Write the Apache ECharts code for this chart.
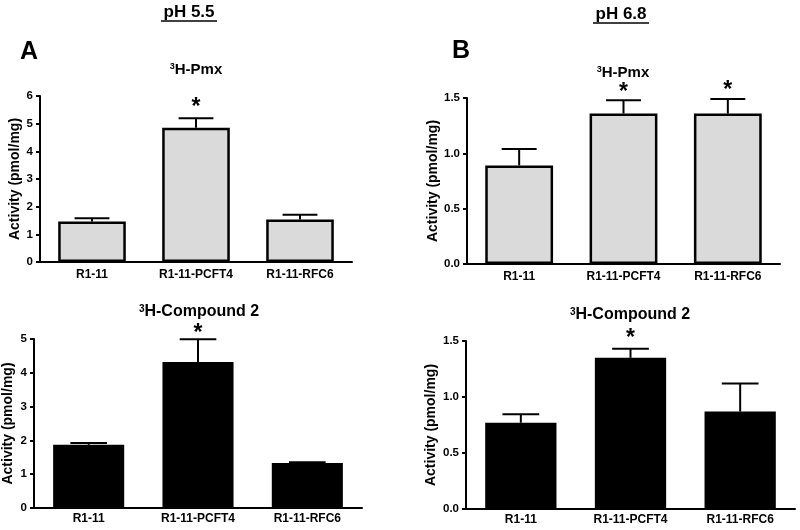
<!DOCTYPE html>
<html>
<head>
<meta charset="utf-8">
<script src="https://cdn.jsdelivr.net/npm/echarts@6/dist/echarts.min.js"></script>
<style>html,body{margin:0;padding:0;background:#fff;}#c{width:800px;height:530px;}</style>
</head>
<body>
<div id="c"></div>
<script>
const categories = ['R1-11', 'R1-11-PCFT4', 'R1-11-RFC6'];
// pH 5.5, 3H-Pmx
const pmx55 = [1.46, 4.85, 1.54];
const pmx55Err = [0.12, 0.35, 0.17];
const pmx55Sig = [0, 1, 0];
// pH 6.8, 3H-Pmx
const pmx68 = [0.89, 1.36, 1.36];
const pmx68Err = [0.15, 0.12, 0.13];
const pmx68Sig = [0, 1, 1];
// pH 5.5, 3H-Compound 2
const cpd55 = [1.87, 4.32, 1.33];
const cpd55Err = [0.05, 0.67, 0.02];
const cpd55Sig = [0, 1, 0];
// pH 6.8, 3H-Compound 2
const cpd68 = [0.77, 1.35, 0.87];
const cpd68Err = [0.075, 0.08, 0.25];
const cpd68Sig = [0, 1, 0];

const yTicksA = { max: 6, interval: 1 };
const yTicksB = { max: 1.5, interval: 0.5 };
const yTicksC = { max: 5, interval: 1 };
const yTicksD = { max: 1.5, interval: 0.5 };

const FONT = "'Liberation Sans', Arial, sans-serif";
const chart = echarts.init(document.getElementById('c'), null, { renderer: 'canvas' });

const grids = [
  { left: 40, top: 96, width: 312, height: 166 },
  { left: 467, top: 98, width: 313, height: 166 },
  { left: 33, top: 339, width: 329, height: 169 },
  { left: 466, top: 341, width: 329, height: 168 }
];

const panels = [
  { vals: pmx55, err: pmx55Err, sig: pmx55Sig, ticks: yTicksA, fill: '#dadada', dec: 0, nameGap: 18, labMargin: 7, ast: 13 },
  { vals: pmx68, err: pmx68Err, sig: pmx68Sig, ticks: yTicksB, fill: '#dadada', dec: 1, nameGap: 27, labMargin: 7, ast: 11 },
  { vals: cpd55, err: cpd55Err, sig: cpd55Sig, ticks: yTicksC, fill: '#000000', dec: 0, nameGap: 19, labMargin: 5, ast: 9 },
  { vals: cpd68, err: cpd68Err, sig: cpd68Sig, ticks: yTicksD, fill: '#000000', dec: 1, nameGap: 28, labMargin: 5, ast: 13 }
];

const xAxes = [], yAxes = [], series = [];
panels.forEach((p, k) => {
  xAxes.push({
    type: 'category', gridIndex: k, data: categories,
    axisLine: { lineStyle: { color: '#000', width: 2 } },
    axisTick: { show: false },
    axisLabel: { color: '#000', fontWeight: 'bold', fontSize: 12, fontFamily: FONT, margin: p.labMargin }
  });
  yAxes.push({
    type: 'value', gridIndex: k, min: 0, max: p.ticks.max, interval: p.ticks.interval,
    name: 'Activity (pmol/mg)', nameLocation: 'middle', nameGap: p.nameGap,
    nameTextStyle: { color: '#000', fontWeight: 'bold', fontSize: 14, fontFamily: FONT },
    axisLine: { show: true, lineStyle: { color: '#000', width: 2 } },
    axisTick: { show: true, length: 4, lineStyle: { color: '#000', width: 2 } },
    splitLine: { show: false },
    axisLabel: { color: '#000', fontWeight: 'bold', fontSize: 11.5, fontFamily: FONT, margin: 7,
      formatter: v => v.toFixed(p.dec) }
  });
  series.push({
    type: 'bar', xAxisIndex: k, yAxisIndex: k, data: p.vals, barWidth: '65%',
    itemStyle: { color: p.fill, borderColor: '#000', borderWidth: 2.5 },
    animation: false, z: 2
  });
  series.push({
    type: 'custom', xAxisIndex: k, yAxisIndex: k, z: 3, animation: false,
    encode: { x: 0, y: 1 },
    data: p.vals.map((v, i) => [i, v, p.err[i], p.sig[i]]),
    renderItem: function (params, api) {
      const i = api.value(0), v = api.value(1), e = api.value(2), s = api.value(3);
      const top = api.coord([i, v]);
      const hi = api.coord([i, v + e]);
      const bw = api.size([1, 0])[0] * 0.67;
      const hw = bw / 4;
      const children = [
        { type: 'line', shape: { x1: top[0], y1: top[1], x2: hi[0], y2: hi[1] }, style: { stroke: '#000', lineWidth: 2 } },
        { type: 'line', shape: { x1: hi[0] - hw, y1: hi[1], x2: hi[0] + hw, y2: hi[1] }, style: { stroke: '#000', lineWidth: 2 } }
      ];
      if (s) {
        children.push({ type: 'text', style: { text: '*', x: hi[0], y: hi[1] - p.ast + 3, align: 'center', verticalAlign: 'middle',
          font: 'bold 23px ' + FONT, fill: '#000' } });
      }
      return { type: 'group', children };
    }
  });
});

function titleText(txt, x, y, size) {
  return { type: 'text', x: x, y: y, style: {
    text: '{s|3}{b|' + txt + '}', align: 'center', verticalAlign: 'middle',
    rich: { s: { fontSize: Math.round(size * 0.62), fontWeight: 'bold', fontFamily: FONT, fill: '#000', verticalAlign: 'top', padding: [0, 0, 6, 0] },
            b: { fontSize: size, fontWeight: 'bold', fontFamily: FONT, fill: '#000' } } } };
}

const graphic = [
  { type: 'text', x: 189, y: 12, style: { text: 'pH 5.5', align: 'center', verticalAlign: 'middle', font: 'bold 17px ' + FONT, fill: '#000' } },
  { type: 'line', shape: { x1: 161, y1: 21, x2: 217, y2: 21 }, style: { stroke: '#000', lineWidth: 1.5 } },
  { type: 'text', x: 621, y: 14, style: { text: 'pH 6.8', align: 'center', verticalAlign: 'middle', font: 'bold 17px ' + FONT, fill: '#000' } },
  { type: 'line', shape: { x1: 593, y1: 23, x2: 649, y2: 23 }, style: { stroke: '#000', lineWidth: 1.5 } },
  { type: 'text', x: 29, y: 52, style: { text: 'A', align: 'center', verticalAlign: 'middle', font: 'bold 25px ' + FONT, fill: '#000' } },
  { type: 'text', x: 461, y: 51, style: { text: 'B', align: 'center', verticalAlign: 'middle', font: 'bold 25px ' + FONT, fill: '#000' } },
  titleText('H-Pmx', 196, 70, 15),
  titleText('H-Pmx', 623, 73, 15),
  titleText('H-Compound 2', 199, 312, 16),
  titleText('H-Compound 2', 630, 315, 16)
];

chart.setOption({
  backgroundColor: '#fff',
  animation: false,
  grid: grids,
  xAxis: xAxes,
  yAxis: yAxes,
  series: series,
  graphic: graphic
});
</script>
</body>
</html>
